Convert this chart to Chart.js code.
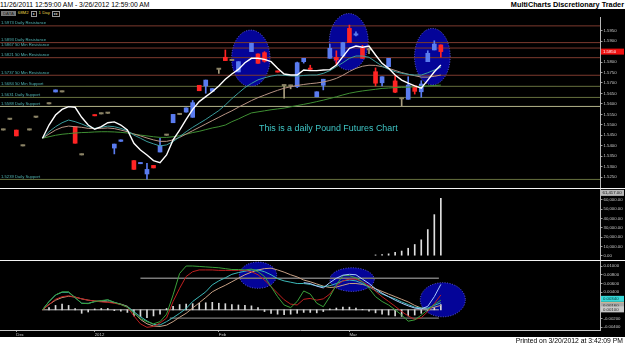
<!DOCTYPE html>
<html><head><meta charset="utf-8">
<script src="https://cdn.jsdelivr.net/npm/chart.js@4.4.1/dist/chart.umd.min.js"></script>
<style>
html,body{margin:0;padding:0;background:#fff;width:625px;height:345px;overflow:hidden;font-family:"Liberation Sans",Arial,sans-serif;}
#hdrL{position:absolute;left:0;top:0;font-size:6.8px;line-height:9px;color:#000;white-space:nowrap;}
#hdrR{position:absolute;right:1px;top:0;font-size:7.3px;line-height:9px;font-weight:bold;color:#000;white-space:nowrap;}
#black{position:absolute;left:0;top:9px;width:625px;height:328px;background:#000;}
#foot{position:absolute;right:2px;top:337px;font-size:6.8px;line-height:8px;color:#000;white-space:nowrap;}
canvas{position:absolute;left:0;}
.sep{position:absolute;left:0;width:625px;height:1px;background:#f4f4f4;}
#tb{position:absolute;left:1px;top:10px;height:6px;font-size:4.3px;line-height:6px;white-space:nowrap;color:#e8d84a;}
#tb span{display:inline-block;vertical-align:top;margin-right:2px;}
.gbox{background:#7a7a7a;color:#222;padding:0 2px;height:5px;line-height:5px;margin-top:0.5px;}
.obox{border:0.6px solid #9a9a9a;color:#ccc;padding:0 1px;height:4px;line-height:4px;margin-top:0.5px;}
#note{position:absolute;left:259px;top:123px;font-size:8.9px;color:#3fc6c6;white-space:nowrap;}
</style></head>
<body>
<div id="hdrL">11/26/2011 12:59:00 AM - 3/26/2012 12:59:00 AM</div>
<div id="hdrR">MultiCharts Discretionary Trader</div>
<div id="black"></div>
<div id="tb"><span class="gbox">DATA</span><span>68M2</span><span class="obox">&#9656;</span><span>1 Day</span><span class="obox">&#9656;&#9656;</span></div>
<canvas id="cp" width="625" height="179" style="top:13px"></canvas>
<canvas id="cv" width="625" height="78" style="top:185px"></canvas>
<canvas id="co" width="625" height="80" style="top:257px"></canvas>
<div class="sep" style="top:188px"></div>
<div class="sep" style="top:260px"></div>
<div id="note">This is a daily Pound Futures Chart</div>
<div id="foot">Printed on 3/20/2012 at 3:42:09 PM</div>
<script>
// ---------------- DATA ----------------
// daily bars of 6B M2 (British Pound, June 2012), one entry per traded bar
const monthTickBars = [2, 14, 33, 53];
const monthTickLabels = ['Dec', '2012', 'Feb', 'Mar'];

const opens  = [1.5475,1.5526,1.5475,1.5399,1.5475,1.5536,null,1.5600,1.5657,1.5657,null,1.5491,1.5356,null,1.5547,1.5552,1.5555,1.5389,1.5421,null,
                1.5329,1.5314,1.5265,1.5306,1.5370,1.5450,1.5510,1.5549,1.5561,1.5536,1.5689,1.5686,1.5660,1.5765,1.5823,1.5807,1.5753,null,1.5850,1.5839,
                1.5845,null,1.5756,1.5687,1.5685,1.5682,1.5802,1.5768,1.5634,1.5689,1.5818,1.5823,1.5829,1.5961,1.5929,1.5866,1.5858,1.5754,1.5701,1.5778,
                1.5710,1.5624,1.5622,1.5686,1.5658,1.5802,1.5858,1.5882];
const highs  = [1.5475,1.5526,1.5475,1.5399,1.5475,1.5536,null,1.5600,1.5667,1.5657,null,1.5491,1.5356,null,1.5547,1.5552,1.5555,1.5408,1.5428,null,
                1.5329,1.5318,1.5316,1.5306,1.5436,1.5450,1.5550,1.5549,1.5581,1.5616,1.5689,1.5714,1.5673,1.5765,1.5858,1.5807,1.5802,null,1.5890,1.5839,
                1.5850,null,1.5756,1.5690,1.5690,1.5800,1.5818,1.5785,1.5658,1.5718,1.5886,1.5854,1.5893,1.5977,1.5945,1.5880,1.5868,1.5772,1.5730,1.5818,
                1.5738,1.5628,1.5730,1.5686,1.5711,1.5854,1.5902,1.5882];
const lows   = [1.5475,1.5526,1.5447,1.5399,1.5475,1.5536,null,1.5600,1.5657,1.5657,null,1.5412,1.5356,null,1.5543,1.5552,1.5555,1.5361,1.5421,null,
                1.5287,1.5314,1.5240,1.5294,1.5370,1.5450,1.5510,1.5549,1.5561,1.5536,1.5663,1.5651,1.5660,1.5746,1.5807,1.5807,1.5753,null,1.5850,1.5794,
                1.5800,null,1.5752,1.5627,1.5672,1.5678,1.5795,1.5760,1.5634,1.5667,1.5818,1.5786,1.5827,1.5893,1.5925,1.5818,1.5840,1.5686,1.5686,1.5778,
                1.5654,1.5587,1.5622,1.5647,1.5632,1.5802,1.5858,1.5823];
const closes = [1.5475,1.5526,1.5447,1.5399,1.5475,1.5536,null,1.5600,1.5667,1.5657,null,1.5412,1.5356,null,1.5543,1.5552,1.5555,1.5408,1.5428,null,
                1.5287,1.5318,1.5287,1.5294,1.5402,1.5450,1.5550,1.5549,1.5581,1.5606,1.5663,1.5714,1.5673,1.5765,1.5807,1.5807,1.5802,null,1.5890,1.5794,
                1.5804,null,1.5752,1.5687,1.5685,1.5797,1.5818,1.5765,1.5658,1.5718,1.5866,1.5810,1.5893,1.5893,1.5935,1.5818,1.5858,1.5699,1.5730,1.5818,
                1.5656,1.5624,1.5690,1.5660,1.5695,1.5842,1.5886,1.5850];

// moving averages
const maFast = [null,null,null,null,null,null,1.5436,1.5499,1.5547,1.5574,1.5587,1.5584,1.5536,1.5499,1.5479,1.5491,1.5510,1.5514,1.5499,1.5475,
                1.5412,1.5380,1.5356,1.5329,1.5319,1.5356,1.5428,1.5475,1.5526,1.5574,1.5611,1.5635,1.5658,1.5686,1.5718,1.5743,1.5765,1.5797,1.5818,1.5818,
                1.5813,1.5802,1.5770,1.5743,1.5738,1.5738,1.5762,1.5759,1.5759,1.5762,1.5764,1.5786,1.5826,1.5866,1.5877,1.5871,1.5877,1.5834,1.5794,1.5770,
                1.5738,1.5714,1.5699,1.5686,1.5675,1.5714,1.5754,1.5786];
const maMid  = [null,null,null,null,null,null,1.5436,1.5467,1.5491,1.5510,1.5523,1.5515,1.5504,1.5491,1.5483,1.5488,1.5494,1.5491,1.5483,1.5472,
                1.5451,1.5436,1.5420,1.5409,1.5399,1.5404,1.5420,1.5443,1.5467,1.5488,1.5507,1.5526,1.5547,1.5568,1.5595,1.5625,1.5652,1.5678,1.5698,1.5715,
                1.5725,1.5733,1.5738,1.5737,1.5734,1.5733,1.5736,1.5738,1.5738,1.5746,1.5759,1.5778,1.5797,1.5818,1.5829,1.5829,1.5823,1.5802,1.5781,1.5765,
                1.5754,1.5746,1.5741,1.5738,1.5738,1.5749,1.5762,1.5775];
const maSlow = [null,null,null,null,null,null,1.5436,1.5456,1.5475,1.5488,1.5494,1.5491,1.5488,1.5483,1.5482,1.5483,1.5485,1.5482,1.5475,1.5467,
                1.5456,1.5447,1.5437,1.5428,1.5421,1.5421,1.5428,1.5440,1.5456,1.5472,1.5488,1.5504,1.5520,1.5536,1.5552,1.5567,1.5584,1.5600,1.5616,1.5630,
                1.5642,1.5654,1.5665,1.5675,1.5682,1.5688,1.5693,1.5697,1.5700,1.5705,1.5712,1.5722,1.5737,1.5755,1.5770,1.5780,1.5785,1.5784,1.5778,1.5770,
                1.5760,1.5750,1.5742,1.5735,1.5728,1.5728,1.5732,1.5738];
const maLong = [null,null,null,null,null,null,1.5436,1.5443,1.5450,1.5455,1.5458,1.5461,1.5463,1.5464,1.5466,1.5467,1.5467,1.5466,1.5464,1.5461,
                1.5456,1.5451,1.5447,1.5443,1.5440,1.5440,1.5443,1.5448,1.5455,1.5463,1.5469,1.5477,1.5485,1.5491,1.5499,1.5515,1.5528,1.5543,1.5557,1.5562,
                1.5567,1.5572,1.5576,1.5580,1.5586,1.5592,1.5598,1.5604,1.5611,1.5618,1.5626,1.5634,1.5643,1.5651,1.5657,1.5662,1.5666,1.5670,1.5674,1.5676,
                1.5678,1.5679,1.5680,1.5682,1.5684,1.5686,1.5688,1.5690];

// support / resistance levels
const levelValues = [1.5973, 1.5893, 1.5867, 1.5821, 1.5737, 1.5684, 1.5631, 1.5588, 1.5239];
const levelNames  = ['Daily Resistance','Daily Resistance','50 Min Resistance','50 Min Resistance','50 Min Resistance','50 Min Support','Daily Support','Daily Support','Daily Support'];

// highlighted zones (bar, price, half-width in bars, half-height in price)
const priceZoneBar = [37.9, 52.9, 65.7];
const priceZoneVal = [1.5818, 1.5897, 1.5826];
const priceZoneHalfBars = [2.94, 2.98, 2.73];
const priceZoneHalfVal  = [0.0135, 0.0135, 0.0135];

const priceTicks = [1.5950,1.5900,1.5850,1.5800,1.5750,1.5700,1.5650,1.5600,1.5550,1.5500,1.5450,1.5400,1.5350,1.5300,1.5250];

// volume
const volume = [null,null,null,null,null,null,null,null,null,null,null,null,null,null,null,null,null,null,null,null,
                null,null,null,null,null,null,null,null,null,null,null,null,null,null,null,null,null,null,null,null,
                null,null,null,null,null,null,null,null,null,null,null,null,null,null,null,null,null,800,1200,2000,
                3500,5000,8000,12000,17000,28000,44000,61417];
const volumeTicks = [0,10000,20000,30000,40000,50000,60000];

// oscillator lines
const oscGreen = [null,null,null,null,null,null,0,0.0019,0.0034,0.0041,0.0041,0.0028,0.0015,0.0014,0.0019,0.0021,0.0023,0.0017,0.0012,0.0006,
                  -0.0008,-0.0020,-0.0027,-0.0032,-0.0027,-0.0010,0.0034,0.0083,0.0100,0.0100,0.0099,0.0098,0.0097,0.0096,0.0094,0.0092,0.0092,0.0091,0.0093,0.0087,
                  0.0076,0.0053,0.0030,0.0011,0.0005,0.0019,0.0043,0.0036,0.0015,0.0007,0.0030,0.0057,0.0078,0.0078,0.0073,0.0064,0.0049,0.0030,0.0019,0.0011,
                  0.0000,-0.0012,-0.0026,-0.0023,-0.0012,0.0000,0.0012,0.0022];
const oscRed   = [null,null,null,null,null,null,0,0.0012,0.0024,0.0030,0.0032,0.0029,0.0025,0.0022,0.0020,0.0018,0.0017,0.0015,0.0012,0.0006,
                  -0.0014,-0.0032,-0.0040,-0.0038,-0.0030,-0.0019,0.0019,0.0049,0.0076,0.0087,0.0091,0.0091,0.0091,0.0090,0.0090,0.0090,0.0090,0.0090,0.0087,0.0080,
                  0.0068,0.0053,0.0038,0.0023,0.0013,0.0011,0.0024,0.0026,0.0022,0.0025,0.0036,0.0055,0.0066,0.0070,0.0070,0.0064,0.0055,0.0042,0.0030,0.0019,
                  0.0008,-0.0004,-0.0014,-0.0022,-0.0018,-0.0004,0.0014,0.0034];
const oscTeal  = [null,null,null,null,null,null,0,0.00185,0.00338,0.0040,0.0040,0.00276,0.00148,0.00148,0.00185,0.00201,0.00224,0.0017,0.00125,0.00072,
                  -0.00043,-0.00157,-0.00256,-0.00332,-0.00347,-0.0027,-0.0018,-0.0008,0.0003,0.0019,0.0030,0.0041,0.0057,0.0066,0.0073,0.0081,0.0085,0.0088,0.0091,0.0091,
                  0.0087,0.0080,0.0071,0.0066,0.0063,0.0060,0.0060,0.0058,0.0055,0.0053,0.0055,0.0060,0.0066,0.0068,0.0066,0.0060,0.0052,0.0044,0.0036,0.0030,
                  0.0025,0.0018,0.0012,0.0006,0.0004,0.0004,0.0010,0.0016];
const oscTan   = [null,null,null,null,null,null,0,0.0012,0.0022,0.0028,0.0031,0.0029,0.0025,0.0022,0.0020,0.0019,0.0018,0.0016,0.0013,0.0008,
                  -0.0006,-0.0022,-0.0032,-0.0037,-0.0038,-0.0035,-0.0027,-0.0017,-0.0008,0.0004,0.0016,0.0028,0.0041,0.0049,0.0056,0.0064,0.0072,0.0080,0.0086,0.0091,
                  0.0094,0.0095,0.0091,0.0086,0.0080,0.0075,0.0068,0.0064,0.0059,0.0054,0.0051,0.0052,0.0056,0.0060,0.0060,0.0058,0.0054,0.0048,0.0042,0.0036,
                  0.0030,0.0024,0.0018,0.0010,0.0004,0.0002,0.0006,0.0010];
const oscBlue  = [null,null,null,null,null,null,null,null,null,null,null,null,null,null,null,null,null,null,null,null,
                  null,null,null,null,null,null,null,null,null,null,null,null,null,null,null,null,null,null,null,null,
                  null,null,null,null,null,null,0.0062,0.0060,0.0054,0.0050,0.0062,0.0072,0.0079,0.0081,0.0080,0.0070,0.0060,0.0048,0.0038,0.0030,
                  0.0022,0.0015,0.0009,0.0004,0.0002,0.0008,0.0030,0.0058];
const oscHist  = [null,null,null,null,null,null,null,0.0005,0.0010,0.0013,0.0010,0.0003,-0.0008,-0.0005,0.0002,0.0003,0.0003,-0.0002,-0.0003,-0.0006,
                  -0.0014,-0.0016,-0.0018,-0.0014,-0.0010,0.0003,0.0008,0.0012,0.0013,0.0014,0.0015,0.0016,0.0017,0.0015,0.0014,0.0012,0.0011,0.0010,0.0009,0.0005,
                  -0.0004,-0.0008,-0.0010,-0.0011,-0.0010,-0.0008,-0.0006,-0.0006,-0.0007,-0.0004,0.0002,0.0004,0.0006,0.0006,0.0004,0.0001,-0.0003,-0.0007,-0.0010,-0.0012,
                  -0.0014,-0.0015,-0.0014,-0.0012,-0.0008,-0.0002,0.0005,0.0012];
const oscBandValues = [0.0072, -0.0019];
const oscBandFrom   = [21, 25.5];
const oscBandTo     = [66.7, 66.7];
const oscZoneBar = [39, 53.4, 67.3];
const oscZoneVal = [0.0079, 0.0069, 0.0023];
const oscZoneHalfBars = [2.86, 3.4, 3.45];
const oscZoneHalfVal  = [0.0030, 0.0027, 0.0039];
const oscTicks = [0.01, 0.008, 0.006, 0.004, -0.002, -0.004];

// ---------------- CHART SETUP ----------------
const XMIN = -0.505, XMAX = 91.37;
const UP = '#5a7cf0', DN = '#ff2424', DJ = '#8c8466';
const FONT = 'Liberation Sans';
const idx = opens.map((_, i) => i);
const barColor = i => closes[i] > opens[i] ? UP : (closes[i] < opens[i] ? DN : DJ);
const valid = idx.filter(i => opens[i] !== null);

function yAxis(min, max, ticks, fmt) {
  return {
    type: 'linear', position: 'right', min, max,
    afterFit(s) { s.width = 25; },
    afterBuildTicks(s) { s.ticks = ticks.map(v => ({ value: v })); },
    grid: { display: true, drawOnChartArea: false, tickLength: 2.5, color: '#a0a0a0', lineWidth: 1 },
    border: { display: true, color: '#b8b8b8', width: 1 },
    ticks: { color: '#c8c8c8', font: { size: 4.3, family: FONT }, padding: 1, autoSkip: false, callback: fmt }
  };
}
const xHidden = { type: 'linear', min: XMIN, max: XMAX, display: false, offset: false };
const base = {
  responsive: false, animation: false, events: [],
  plugins: { legend: { display: false }, tooltip: { enabled: false } }
};
function lineDS(arr, color, w, order) {
  return { type: 'line', data: arr.map((v, i) => ({ x: i, y: v })), borderColor: color, borderWidth: w,
           pointRadius: 0, tension: 0, order, spanGaps: false, clip: false };
}
function zones(ch, bars, vals, hb, hv) {
  const c = ch.ctx, xs = ch.scales.x, ys = ch.scales.y;
  c.save();
  for (let k = 0; k < bars.length; k++) {
    const cx = xs.getPixelForValue(bars[k]), cy = ys.getPixelForValue(vals[k]);
    const rx = Math.abs(xs.getPixelForValue(bars[k] + hb[k]) - cx);
    const ry = Math.abs(ys.getPixelForValue(vals[k] + hv[k]) - cy);
    c.beginPath(); c.ellipse(cx, cy, rx, ry, 0, 0, Math.PI * 2);
    c.fillStyle = 'rgb(4,4,152)'; c.fill();
    c.setLineDash([1, 1.5]); c.strokeStyle = 'rgb(110,110,255)'; c.lineWidth = 0.8; c.stroke();
  }
  c.restore();
}
function axisBox(ch, v, text, bg, fg) {
  const c = ch.ctx, ys = ch.scales.y, y = ys.getPixelForValue(v), x = ch.chartArea.right + 1;
  c.save();
  c.fillStyle = bg; c.fillRect(x, y - 3, 23, 6);
  c.fillStyle = fg; c.font = '4.3px ' + FONT; c.textBaseline = 'middle'; c.textAlign = 'left';
  c.fillText(text, x + 2, y + 0.3);
  c.restore();
}

// ---- price pane ----
const pMin = 1.5198, pMax = 1.60155;
const pricePlugin = {
  id: 'pricePlugin',
  beforeDatasetsDraw(ch) { zones(ch, priceZoneBar, priceZoneVal, priceZoneHalfBars, priceZoneHalfVal); },
  afterDatasetsDraw(ch) {
    const c = ch.ctx, ys = ch.scales.y;
    c.save(); c.fillStyle = '#4fb4b4'; c.font = '4.2px ' + FONT; c.textBaseline = 'bottom';
    levelValues.forEach((v, k) => c.fillText(v.toFixed(4) + ' ' + levelNames[k], 1, ys.getPixelForValue(v) - 0.8));
    c.restore();
  },
  afterDraw(ch) { axisBox(ch, closes[closes.length - 1], closes[closes.length - 1].toFixed(4), '#ee1111', '#ffffff'); }
};
const levelColors = levelValues.map((v, k) => k < 5 ? '#7c3a2e' : (k === 7 ? '#b4b48a' : '#66703e'));
const priceDatasets = [];
levelValues.forEach((v, k) => priceDatasets.push({ type: 'line', data: [{ x: XMIN, y: v }, { x: XMAX, y: v }],
  borderColor: levelColors[k], borderWidth: 1, pointRadius: 0, order: 20 }));
priceDatasets.push({ type: 'bar', grouped: false, order: 6, barThickness: 1,
  data: valid.map(i => ({ x: i, y: [lows[i], highs[i]] })),
  backgroundColor: valid.map(i => barColor(i) === DJ ? '#a89e80' : barColor(i)), minBarLength: 1 });
priceDatasets.push({ type: 'bar', grouped: false, order: 5, barThickness: 4,
  data: valid.map(i => ({ x: i, y: [opens[i], closes[i]] })),
  backgroundColor: valid.map(i => barColor(i)), minBarLength: 1.3 });
priceDatasets.push(lineDS(maLong, '#3f8f33', 1, 4));
priceDatasets.push(lineDS(maSlow, '#b89484', 1, 3));
priceDatasets.push(lineDS(maMid, '#3a9c9c', 1, 2));
priceDatasets.push(lineDS(maFast, '#ffffff', 1.4, 1));

new Chart(document.getElementById('cp'), {
  type: 'bar', data: { datasets: priceDatasets },
  options: Object.assign({}, base, {
    layout: { padding: { top: 4, bottom: 4, left: 0, right: 0 } },
    scales: { x: xHidden, y: yAxis(pMin, pMax, priceTicks, v => v.toFixed(4)) }
  }),
  plugins: [pricePlugin]
});

// ---- volume pane ----
const volPlugin = {
  id: 'volPlugin',
  afterDraw(ch) {
    const last = volume[volume.length - 1];
    const c = ch.ctx, ys = ch.scales.y, x = ch.chartArea.right + 1, y = ys.getPixelForValue(last) - 5.5;
    c.save(); c.fillStyle = '#b8b8b8'; c.fillRect(x, y - 3, 23, 6);
    c.fillStyle = '#111'; c.font = '4.3px ' + FONT; c.textBaseline = 'middle';
    c.fillText(last.toLocaleString('en-US', { minimumFractionDigits: 2 }), x + 1.5, y + 0.3);
    c.restore();
  }
};
new Chart(document.getElementById('cv'), {
  type: 'bar',
  data: { datasets: [{ type: 'bar', barThickness: 1, backgroundColor: '#e0e0e0',
    data: volume.map((v, i) => ({ x: i, y: v })).filter(d => d.y !== null) }] },
  options: Object.assign({}, base, {
    layout: { padding: { top: 4, bottom: 4, left: 0, right: 0 } },
    scales: { x: xHidden, y: yAxis(-3536, 71464, volumeTicks, v => v.toLocaleString('en-US', { minimumFractionDigits: 2 })) }
  }),
  plugins: [volPlugin]
});

// ---- oscillator pane ----
const oscPlugin = {
  id: 'oscPlugin',
  beforeDatasetsDraw(ch) { zones(ch, oscZoneBar, oscZoneVal, oscZoneHalfBars, oscZoneHalfVal); },
  afterDraw(ch) {
    const n = oscTeal.length - 1;
    axisBox(ch, oscRed[n] - 0.0009, oscRed[n].toFixed(5), '#36d8d8', '#003333');
    axisBox(ch, oscGreen[n] - 0.0011, oscGreen[n].toFixed(5), '#d2b690', '#222');
    axisBox(ch, oscTeal[n] - 0.0007, oscTeal[n].toFixed(5), '#a8a8a8', '#222');
    axisBox(ch, oscTan[n] - 0.0009, oscTan[n].toFixed(5), '#c8c8c8', '#222');
  }
};
const oscDatasets = [];
oscBandValues.forEach((v, k) => oscDatasets.push({ type: 'line', data: [{ x: oscBandFrom[k], y: v }, { x: oscBandTo[k], y: v }],
  borderColor: '#7a7a7a', borderWidth: 1.4, pointRadius: 0, order: 20 }));
oscDatasets.push({ type: 'line', data: [{ x: 6, y: 0 }, { x: oscBandTo[0], y: 0 }], borderColor: '#bdbdbd', borderWidth: 1, pointRadius: 0, order: 19 });
oscDatasets.push({ type: 'bar', barThickness: 1, backgroundColor: '#d8d8d8', order: 10,
  data: oscHist.map((v, i) => ({ x: i, y: v })).filter(d => d.y !== null) });
oscDatasets.push(lineDS(oscTan, '#c7a084', 1, 5));
oscDatasets.push(lineDS(oscTeal, '#3cb8b8', 1, 4));
oscDatasets.push(lineDS(oscRed, '#c02020', 1, 3));
oscDatasets.push(lineDS(oscGreen, '#3aa03a', 1, 2));
oscDatasets.push(lineDS(oscBlue, '#a8c8ff', 1, 1));

const xOsc = {
  type: 'linear', min: XMIN, max: XMAX, position: 'bottom', offset: false,
  afterFit(s) { s.height = 7; },
  afterBuildTicks(s) { s.ticks = monthTickBars.map(v => ({ value: v })); },
  grid: { display: true, drawOnChartArea: false, tickLength: 2, color: '#a0a0a0', offset: false },
  border: { display: true, color: '#c8c8c8', width: 1 },
  ticks: { color: '#c8c8c8', font: { size: 4.3, family: FONT }, padding: 0, maxRotation: 0, autoSkip: false, align: 'start',
           callback: (v) => monthTickLabels[monthTickBars.indexOf(v)] }
};
new Chart(document.getElementById('co'), {
  type: 'bar', data: { datasets: oscDatasets },
  options: Object.assign({}, base, {
    layout: { padding: { top: 4, bottom: 0, left: 0, right: 0 } },
    scales: { x: xOsc, y: yAxis(-0.004612, 0.011142, oscTicks, v => v.toFixed(5)) }
  }),
  plugins: [oscPlugin]
});
</script>
</body></html>
